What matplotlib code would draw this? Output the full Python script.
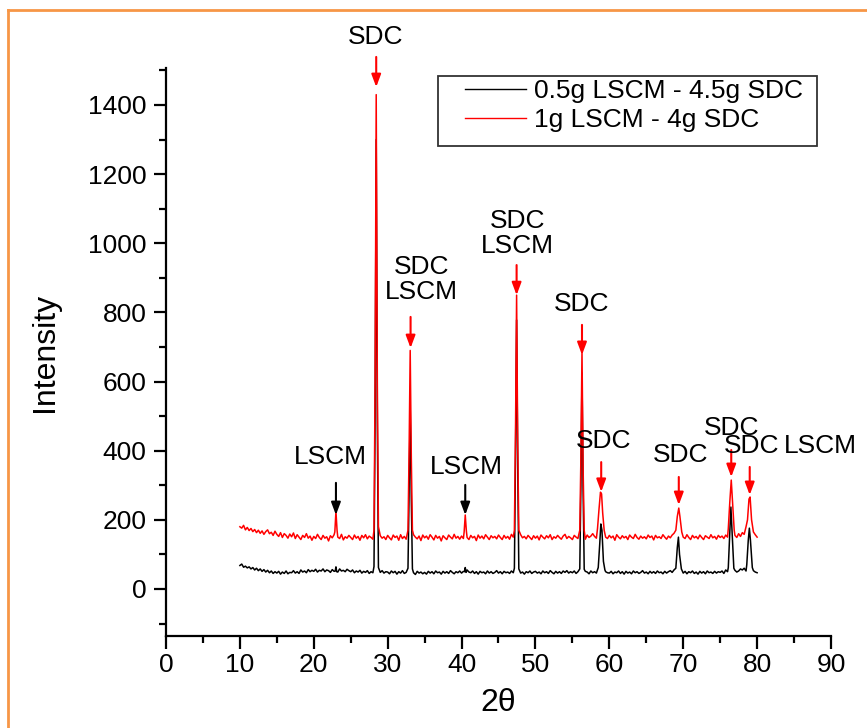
import numpy as np
import matplotlib
matplotlib.use("Agg")
import matplotlib.pyplot as plt
from matplotlib.lines import Line2D
from matplotlib.patches import Rectangle

plt.rcParams['font.family'] = ['Liberation Sans', 'DejaVu Sans']

# ---------------- data ----------------
x_start, x_step = 10.0, 0.25

red_base = [
    180,176,184,171,178,169,175,166,172,163,170,161,168,158,166,171,160,164,155,167,
    158,152,163,149,160,155,147,159,151,162,146,157,150,143,155,149,160,147,153,141,
    152,146,158,149,143,155,147,151,139,154,148,157,144,150,146,158,142,151,147,155,
    149,143,156,147,152,141,155,148,157,145,153,149,144,156,150,142,154,147,151,143,
    155,148,142,156,149,153,141,157,146,152,144,155,149,143,157,150,145,153,140,156,
    148,153,144,157,150,142,155,147,152,139,154,148,143,156,150,145,158,147,152,144,
    153,146,158,149,143,155,148,152,140,156,147,153,145,157,150,143,154,148,152,145,
    156,149,143,155,147,152,144,158,150,146,153,141,157,148,152,145,155,149,143,154,
    147,153,142,156,150,145,154,148,157,143,151,147,155,149,144,153,158,146,152,148,
    143,155,150,146,157,148,152,144,156,149,153,160,152,147,155,149,143,154,150,146,
    155,148,153,141,157,150,145,154,148,152,143,156,150,146,158,149,144,153,147,151,
    145,156,149,153,142,155,148,151,146,157,150,144,153,148,156,161,149,152,145,154,
    150,146,157,149,143,155,148,152,145,156,149,143,154,150,146,157,148,152,144,155,
    149,153,146,156,150,158,152,147,155,149,160,152,163,158,150,148,155,153,146,157,
    150]

black_base = [
    68,72,63,66,61,64,58,62,55,60,53,58,51,56,49,54,47,52,45,50,
    46,51,43,49,45,52,44,48,47,53,46,50,45,55,49,52,47,56,50,54,
    51,57,49,54,52,58,50,55,53,48,56,51,55,49,58,52,54,50,57,53,
    50,55,47,52,49,54,46,51,48,53,45,50,47,52,44,51,48,53,46,50,
    49,44,52,47,51,43,50,46,53,45,48,52,44,50,47,42,51,46,49,44,
    48,43,51,46,50,44,52,47,49,43,51,46,50,45,53,48,44,50,47,52,
    46,51,44,55,49,47,52,45,50,43,51,47,49,44,52,46,50,45,48,53,
    46,50,44,51,47,49,45,52,47,50,44,51,46,49,43,50,47,52,45,49,
    51,46,49,44,52,47,50,45,53,48,44,51,46,50,45,52,48,53,46,50,
    47,52,45,50,48,53,46,51,49,44,52,47,50,46,51,45,49,44,50,47,
    46,51,44,49,47,52,45,50,43,51,46,49,44,52,47,50,45,48,53,46,
    49,44,51,46,50,45,52,47,49,44,51,46,50,53,48,55,47,51,45,49,
    46,51,44,50,47,52,45,49,43,51,46,50,44,52,47,49,45,51,46,50,
    48,52,45,55,50,56,51,47,54,49,52,58,55,60,52,47,51,46,53,49,
    47]

red_peak_x = [22.85, 23.0, 23.15,
              28.15, 28.3, 28.45, 28.6, 28.75,
              32.75, 32.9, 33.05, 33.2, 33.35,
              40.35, 40.5, 40.65,
              47.15, 47.3, 47.45, 47.6, 47.75,
              56.0, 56.15, 56.3, 56.45, 56.6,
              58.4, 58.6, 58.8, 58.95, 59.1, 59.3,
              69.0, 69.2, 69.4, 69.55, 69.8,
              76.1, 76.3, 76.5, 76.65, 76.9,
              78.5, 78.7, 78.9, 79.05, 79.25, 79.5]
red_peak_y = [165, 225, 170,
              170, 600, 1430, 600, 180,
              170, 400, 690, 380, 170,
              165, 214, 168,
              170, 450, 850, 420, 170,
              170, 380, 690, 350, 170,
              175, 230, 280, 275, 220, 170,
              170, 210, 234, 210, 165,
              175, 250, 315, 260, 170,
              180, 200, 260, 266, 200, 165]

black_peak_x = [22.9, 23.0, 23.1,
                28.15, 28.3, 28.45, 28.6, 28.75,
                32.75, 32.9, 33.05, 33.2, 33.35,
                40.4, 40.5, 40.6,
                47.15, 47.3, 47.45, 47.6, 47.75,
                56.0, 56.15, 56.3, 56.45, 56.6,
                58.5, 58.7, 58.85, 59.0, 59.2, 59.4,
                69.0, 69.2, 69.35, 69.5, 69.75,
                76.1, 76.3, 76.45, 76.6, 76.85,
                78.6, 78.8, 78.95, 79.1, 79.35]
black_peak_y = [52, 64, 50,
                65, 500, 1300, 480, 62,
                60, 280, 527, 260, 58,
                50, 62, 48,
                60, 380, 778, 360, 58,
                58, 300, 625, 290, 57,
                62, 130, 188, 170, 80, 55,
                60, 120, 150, 100, 58,
                62, 160, 237, 170, 60,
                70, 140, 176, 140, 62]

series_labels = ["0.5g LSCM - 4.5g SDC", "1g LSCM - 4g SDC"]

# annotations: text, x of text, y of text, x of arrow, arrow start y, arrow end y, colour
ann_text = ["SDC", "LSCM", "SDC\nLSCM", "LSCM", "SDC\nLSCM", "SDC", "SDC", "SDC", "SDC", "SDC", "LSCM"]
ann_tx = [28.4, 22.3, 34.6, 40.6, 47.6, 56.2, 59.2, 69.7, 76.6, 79.3, 88.6]
ann_ty = [1597, 382, 894, 353, 1027, 824, 428, 388, 466, 414, 414]
ann_ax = [28.45, 23.0, 33.1, 40.5, 47.45, 56.3, 58.9, 69.4, 76.5, 79.0, None]
ann_a0 = [1539, 307, 787, 301, 937, 764, 367, 324, 402, 353, None]
ann_a1 = [1452, 214, 697, 214, 850, 677, 281, 243, 324, 272, None]
ann_col = ["red", "black", "red", "black", "red", "red", "red", "red", "red", "red", "black"]


def merge(base, px, py):
    bx = x_start + x_step * np.arange(len(base))
    px = np.asarray(px, float)
    py = np.asarray(py, float)
    order = np.argsort(px)
    px, py = px[order], py[order]
    breaks = np.where(np.diff(px) > 0.5)[0] + 1
    keep = np.ones(len(bx), bool)
    for grp in np.split(np.arange(len(px)), breaks):
        lo, hi = px[grp].min(), px[grp].max()
        keep &= ~((bx >= lo) & (bx <= hi))
    xs = np.concatenate([bx[keep], px])
    ys = np.concatenate([np.asarray(base, float)[keep], py])
    o = np.argsort(xs)
    return xs[o], ys[o]


bx, by = merge(black_base, black_peak_x, black_peak_y)
rx, ry = merge(red_base, red_peak_x, red_peak_y)

# ---------------- figure ----------------
W, H = 867, 728
fig = plt.figure(figsize=(W / 100, H / 100), dpi=100)
ax = fig.add_axes([166 / W, 1 - 636 / H, (831 - 166) / W, (636 - 68) / H])

ax.plot(bx, by, color="black", lw=1.1, label=series_labels[0])
ax.plot(rx, ry, color="red", lw=1.1, label=series_labels[1])

ax.set_xlim(0, 90)
ax.set_ylim(-136, 1507)
ax.set_xticks(np.arange(0, 91, 10))
ax.set_xticks(np.arange(5, 90, 10), minor=True)
ax.set_yticks(np.arange(0, 1401, 200))
ax.set_yticks(np.arange(-100, 1501, 200), minor=True)

for s in ["top", "right"]:
    ax.spines[s].set_visible(False)
for s in ["left", "bottom"]:
    ax.spines[s].set_linewidth(1.6)

ax.tick_params(axis="both", which="major", direction="out", length=9, width=1.6,
               labelsize=19)
ax.tick_params(axis="x", which="major", pad=3)
ax.tick_params(axis="y", which="major", pad=5)
ax.tick_params(axis="both", which="minor", direction="out", length=5, width=1.6)

ax.set_xlabel("2θ", fontsize=23, labelpad=8)
ax.set_ylabel("Intensity", fontsize=23, labelpad=20)

for t, tx, ty, axx, a0, a1, c in zip(ann_text, ann_tx, ann_ty, ann_ax, ann_a0, ann_a1, ann_col):
    ax.text(tx, ty, t, ha="center", va="center", fontsize=19, color="black",
            linespacing=1.05, clip_on=False)
    if axx is not None:
        ax.annotate("", xy=(axx, a1), xytext=(axx, a0),
                    arrowprops=dict(arrowstyle="-|>,head_length=0.75,head_width=0.28",
                                    color=c, lw=1.5, shrinkA=0, shrinkB=0),
                    annotation_clip=False)

leg = ax.legend(loc="upper left", bbox_to_anchor=(465 / W, 1 - 79 / H),
                bbox_transform=fig.transFigure, fontsize=19, frameon=False,
                handlelength=2.3, handletextpad=0.3, borderpad=0.0,
                labelspacing=0.2, borderaxespad=0)
for ln in leg.get_lines():
    ln.set_linewidth(1.0)

fig.add_artist(Rectangle((438 / W, 1 - 146 / H), (817 - 438) / W, 70 / H,
                         transform=fig.transFigure, fill=False,
                         edgecolor="#333333", lw=1.3))

# orange frame (top and left edges)
fig.add_artist(Line2D([8 / W, 1.0], [1 - 10 / H, 1 - 10 / H], color="#F79646", lw=2,
                      transform=fig.transFigure))
fig.add_artist(Line2D([8 / W, 8 / W], [1 - 10 / H, 0.0], color="#F79646", lw=2,
                      transform=fig.transFigure))

fig.savefig("out.png", dpi=100)
